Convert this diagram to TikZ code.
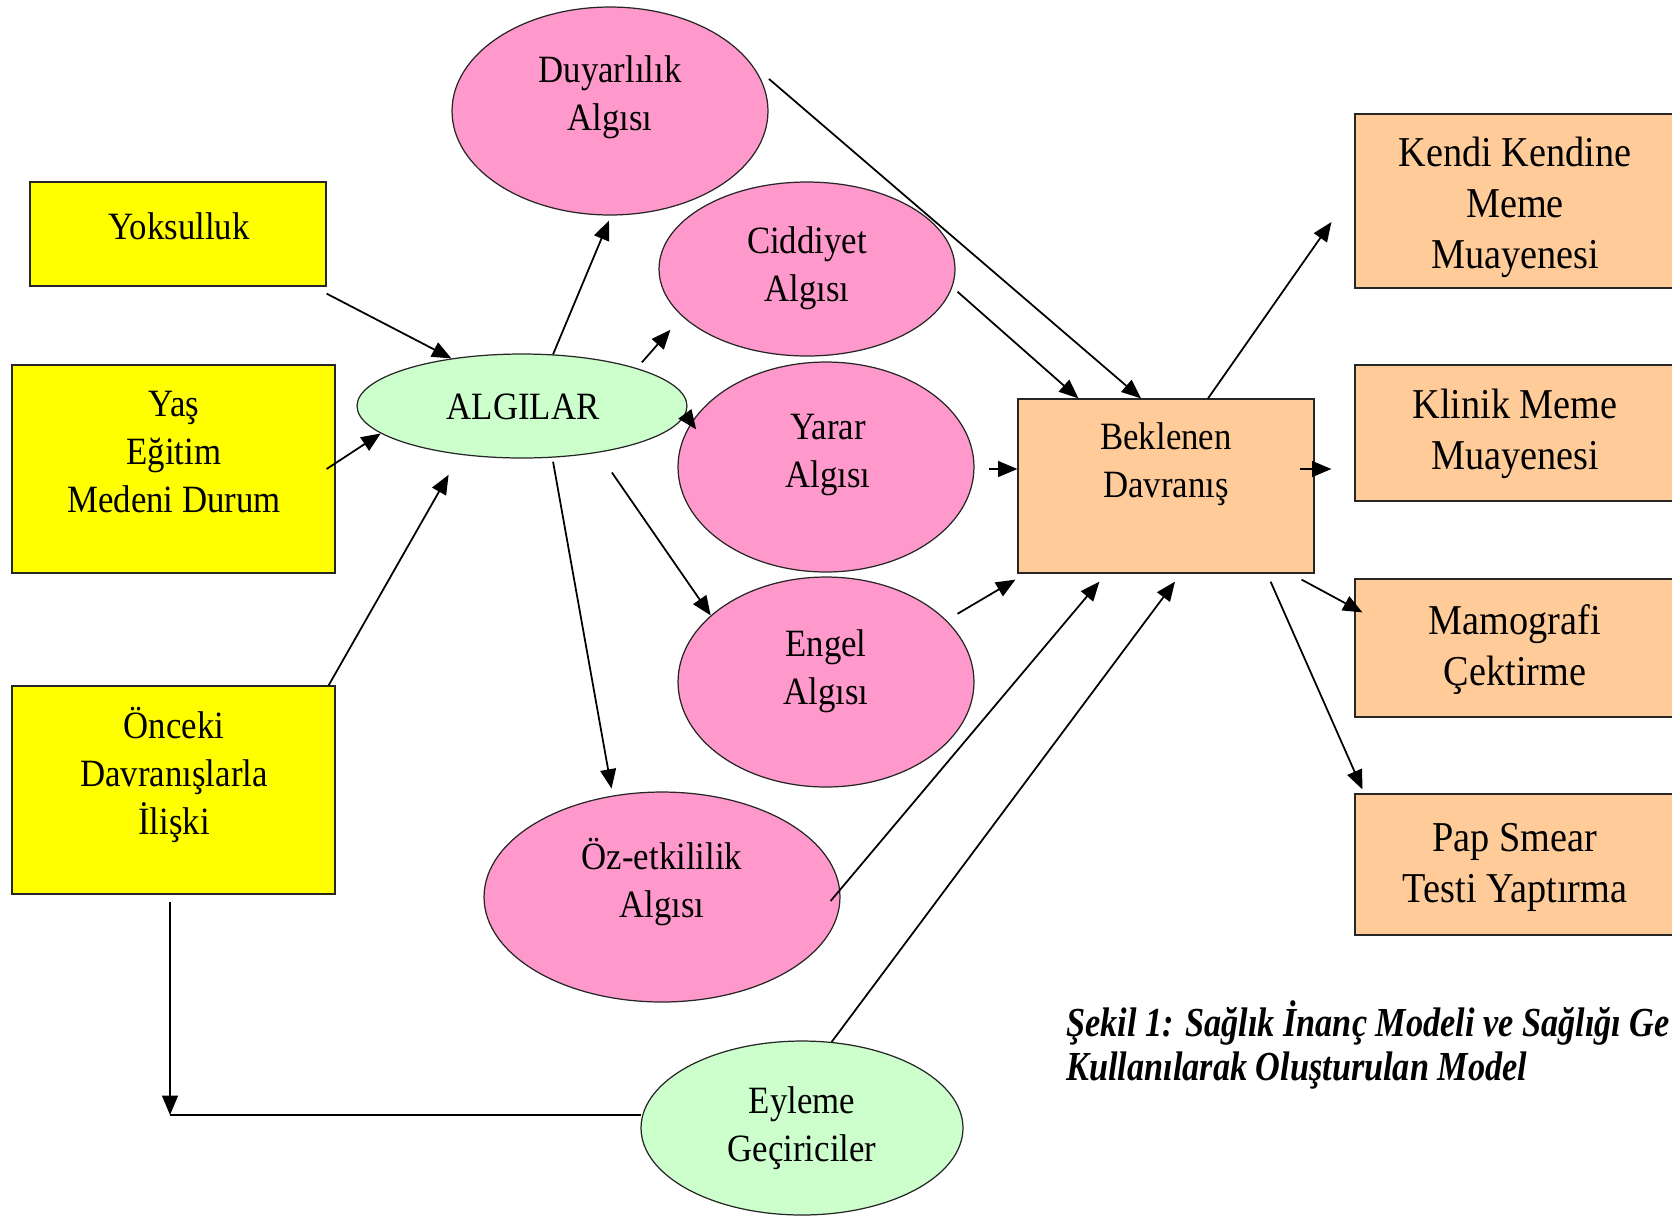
\documentclass[tikz,border=0pt]{standalone}
\usepackage{fontspec}
\setmainfont{Liberation Serif}[FakeStretch=0.9]
\newfontfamily\captionfont{Liberation Serif}[FakeStretch=0.83]
\usetikzlibrary{arrows.meta,calc,shapes.geometric}
\definecolor{boxyellow}{HTML}{FFFF00}
\definecolor{ovalpink}{HTML}{FF99CC}
\definecolor{ovalmint}{HTML}{CCFFCC}
\definecolor{boxpeach}{HTML}{FFCC99}

\begin{document}
\begin{tikzpicture}[x=0.02cm,y=-0.02cm,
  outline/.style={draw=black!85,line width=0.7pt,inner sep=0pt},
  ybox/.style={outline,rectangle,fill=boxyellow},
  pbox/.style={outline,rectangle,fill=boxpeach},
  pinkoval/.style={outline,ellipse,fill=ovalpink},
  mintoval/.style={outline,ellipse,fill=ovalmint},
  txt/.style={align=center,inner sep=0pt,font=\fontsize{22}{27.3}\selectfont},
  bigtxt/.style={align=center,inner sep=0pt,font=\fontsize{24.2}{29}\selectfont},
  captxt/.style={anchor=base west,inner sep=0pt,font=\captionfont\bfseries\itshape\fontsize{23.5}{25}\selectfont},
  arr/.style={-{Triangle[length=11pt,width=9pt]},line width=1pt},
  plain/.style={line width=1pt},
]
\fill[white] (0,0) rectangle (1672,1218);
\useasboundingbox (0,0) rectangle (1672,1218);

% left-hand factor boxes
\node[ybox,minimum width=5.92cm,minimum height=2.08cm] (yok) at (178,234) {};
\node[ybox,minimum width=6.46cm,minimum height=4.16cm] (yas) at (173.5,469) {};
\node[ybox,minimum width=6.46cm,minimum height=4.16cm] (onc) at (173.5,790) {};

% perception ovals
\node[pinkoval,minimum width=6.32cm,minimum height=4.16cm] (duy) at (610,111) {};
\node[pinkoval,minimum width=5.92cm,minimum height=3.48cm] (cid) at (807,269) {};
\node[pinkoval,minimum width=5.92cm,minimum height=4.2cm] (yar) at (826,467) {};
\node[pinkoval,minimum width=5.92cm,minimum height=4.2cm] (eng) at (826,682) {};
\node[pinkoval,minimum width=7.12cm,minimum height=4.2cm] (oz) at (662,897) {};
\node[mintoval,minimum width=6.6cm,minimum height=2.08cm] (alg) at (522,406) {};
\node[mintoval,minimum width=6.44cm,minimum height=3.48cm] (eyl) at (802,1128) {};

% behaviour boxes
\node[pbox,minimum width=5.92cm,minimum height=3.48cm] (bek) at (1166,486) {};
\node[pbox,minimum width=6.42cm,minimum height=3.48cm] (ken) at (1515.5,201) {};
\node[pbox,minimum width=6.42cm,minimum height=2.72cm] (kli) at (1515.5,433) {};
\node[pbox,minimum width=6.42cm,minimum height=2.76cm] (mam) at (1515.5,648) {};
\node[pbox,minimum width=6.42cm,minimum height=2.82cm] (pap) at (1515.5,864.5) {};

% labels
\node[txt] (yokT) at (179,226) {Yoksulluk};
\node[txt] (yasT) at (174,452) {Yaş\\Eğitim\\Medeni Durum};
\node[txt] (oncT) at (174,775) {Önceki\\Davranışlarla\\İlişki};
\node[txt] (algT) at (523,407) {ALGILAR};
\node[txt] (duyT) at (610,97) {Duyarlılık\\Algısı};
\node[txt] (cidT) at (807,268) {Ciddiyet\\Algısı};
\node[txt] (yarT) at (828,455) {Yarar\\Algısı};
\node[txt] (engT) at (826,671) {Engel\\Algısı};
\node[txt] (ozT) at (662,882) {Öz-etkililik\\Algısı};
\node[txt] (eylT) at (802,1128) {Eyleme\\Geçiriciler};
\node[txt] (bekT) at (1166,464) {Beklenen\\Davranış};
\node[bigtxt] (kenT) at (1515,207) {Kendi Kendine\\Meme\\Muayenesi};
\node[bigtxt] (kliT) at (1515,434) {Klinik Meme\\Muayenesi};
\node[bigtxt] (mamT) at (1515,650) {Mamografi\\Çektirme};
\node[bigtxt] (papT) at (1515,867) {Pap Smear\\Testi Yaptırma};

% caption
\node[captxt] (capA) at (1066,1036) {Şekil 1: Sağlık İnanç Modeli ve Sağlığı Ge};
\node[captxt] (capB) at (1066,1080) {Kullanılarak Oluşturulan Model};

% factors into perceptions
\draw[arr] ([shift={(0,7)}]yok.south east) -- (alg.146);
\draw[arr] ([shift={(-9,0)}]yas.east) -- (alg.191);
\draw[arr] ([shift={(-7,0)}]onc.north east) -- ([shift={(-20,19)}]alg.223);

% perceptions split
\draw[arr] (alg.59.5) -- ([shift={(-1,5)}]duy.south);
\draw[arr] ([shift={(11,-4)}]alg.20) -- ([shift={(-18,8)}]cid.204.3);
\draw[arr] (alg.-3) -- ([shift={(8,2)}]yar.164);
\draw[arr] ([shift={(12.5,20)}]alg.-31.5) -- (eng.150.5);
\draw[arr] ([shift={(0,4)}]alg.-59.5) -- ([shift={(-1,-7)}]oz.116.7);

% perceptions into expected behaviour
\draw[arr] ([shift={(8,0)}]duy.12.4) -- ([shift={(-25,0)}]bek.north);
\draw[arr] ([shift={(7,0)}]cid.-9.6) -- ([shift={(61,0)}]bek.north west);
\draw[arr] ([shift={(14,2)}]yar.east) -- ([shift={(0,-17)}]bek.west);
\draw[arr] ([shift={(18,0)}]eng.31.7) -- ([shift={(-2,6)}]bek.south west);
\draw[arr] ([shift={(-10,4)}]oz.east) -- ([shift={(82,8)}]bek.south west);
\draw[arr] (eyl.71.9) -- ([shift={(9,8)}]bek.south);

% expected behaviour into screening actions
\draw[arr] ([shift={(42,0)}]bek.north) -- ([shift={(-23,21)}]ken.west);
\draw[arr] ([shift={(-15,-17)}]bek.east) -- ([shift={(-23,36)}]kli.west);
\draw[arr] ([shift={(-13,6)}]bek.south east) -- ([shift={(8,34)}]mam.north west);
\draw[arr] ([shift={(-44,8)}]bek.south east) -- ([shift={(8,-4)}]pap.north west);

% prior behaviour and cues to action
\coordinate (crn) at (170,1115);
\draw[arr] ([shift={(-3.5,7)}]onc.south) -- (crn);
\draw[plain] (crn) -- ([shift={(1,-13)}]eyl.west);
\end{tikzpicture}
\end{document}
